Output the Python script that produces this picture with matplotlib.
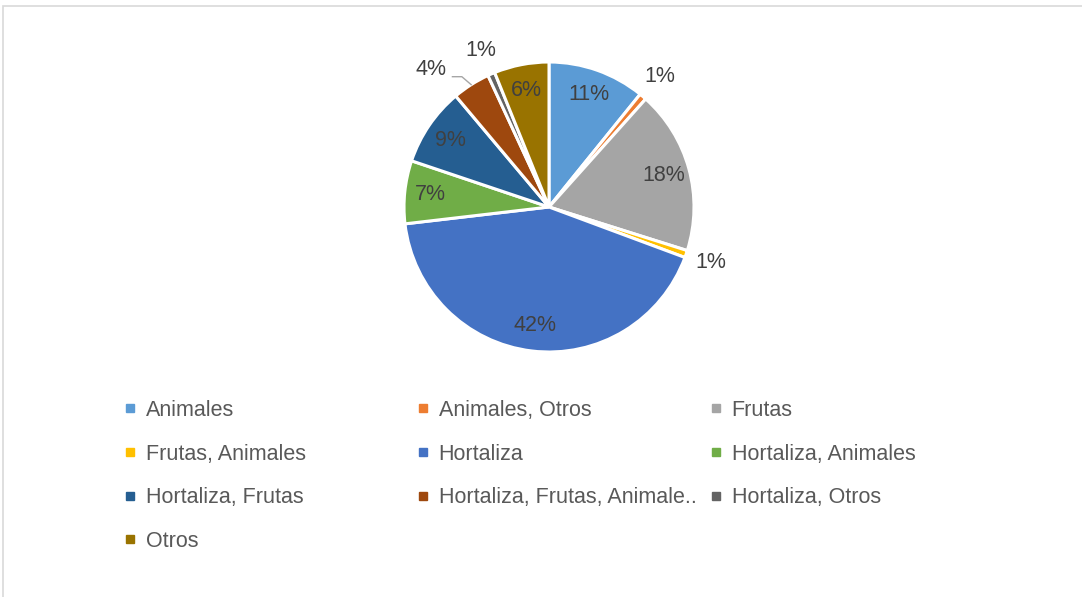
import matplotlib.pyplot as plt
import numpy as np
from matplotlib.lines import Line2D
from matplotlib.patches import Rectangle

plt.rcParams['font.family'] = ['Liberation Sans', 'DejaVu Sans']

categories = ['Animales', 'Animales, Otros', 'Frutas', 'Frutas, Animales', 'Hortaliza',
              'Hortaliza, Animales', 'Hortaliza, Frutas', 'Hortaliza, Frutas, Animale..',
              'Hortaliza, Otros', 'Otros']
values = [10.8, 0.8, 18.2, 0.8, 42.4, 7.0, 8.7, 4.2, 0.8, 6.1]
colors = ['#5B9BD5', '#ED7D31', '#A5A5A5', '#FFC000', '#4472C4',
          '#70AD47', '#255E91', '#9E480E', '#636363', '#997300']

W, H = 1082, 597
fig = plt.figure(figsize=(W / 100, H / 100), dpi=100)

# chart area border (only top/left visible)
fig.add_artist(Rectangle((2.5 / W, -0.1), 1.2, (H - 5.5) / H + 0.1, transform=fig.transFigure,
                         fill=False, edgecolor='#D9D9D9', linewidth=1.2))

cx, cy, r = 549, 207, 145
ax = fig.add_axes([(cx - r) / W, (H - cy - r) / H, 2 * r / W, 2 * r / H])
wedges, _ = ax.pie(values, colors=colors, startangle=90, counterclock=False,
                   wedgeprops=dict(edgecolor='white', linewidth=2.2))
ax.set_xlim(-1, 1)
ax.set_ylim(-1, 1)
ax.set_aspect('equal')
ax.axis('off')

fs = 15.5
total = sum(values)
for w, v in zip(wedges, values):
    mid = np.deg2rad((w.theta1 + w.theta2) / 2)
    ux, uy = np.cos(mid), np.sin(mid)
    pct = '%d%%' % round(100 * v / total)
    if v < 2:
        ax.text(1.18 * ux, 1.18 * uy, pct, ha='center', va='center', fontsize=fs, color='#404040')
    elif v < 5:
        # label pushed outside with a leader line
        tx, ty = 1.25 * ux - 0.14, 1.25 * uy - 0.107
        ax.plot([tx + 0.145, tx + 0.21, 1.0 * ux],
                [ty - 0.049, ty - 0.049, 1.0 * uy],
                color='#A6A6A6', lw=1, clip_on=False)
        ax.text(tx, ty, pct, ha='center', va='center', fontsize=fs, color='#404040')
    else:
        ax.text(0.82 * ux, 0.82 * uy, pct, ha='center', va='center', fontsize=fs, color='#404040')

# legend: three columns filled row by row
handles = [Line2D([], [], marker='s', linestyle='none', markersize=6,
                  markerfacecolor=c, markeredgecolor=c) for c in colors]
col_x = [124, 417, 710]
for j in range(3):
    idx = list(range(j, len(categories), 3))
    fig.legend([handles[i] for i in idx], [categories[i] for i in idx],
               loc='upper left', bbox_to_anchor=(col_x[j] / W, 1 - 400 / H),
               frameon=False, fontsize=fs, labelcolor='#595959',
               handlelength=0.6, handletextpad=0.4, labelspacing=1.05,
               borderpad=0, borderaxespad=0)

fig.savefig('out.png', dpi=100)
